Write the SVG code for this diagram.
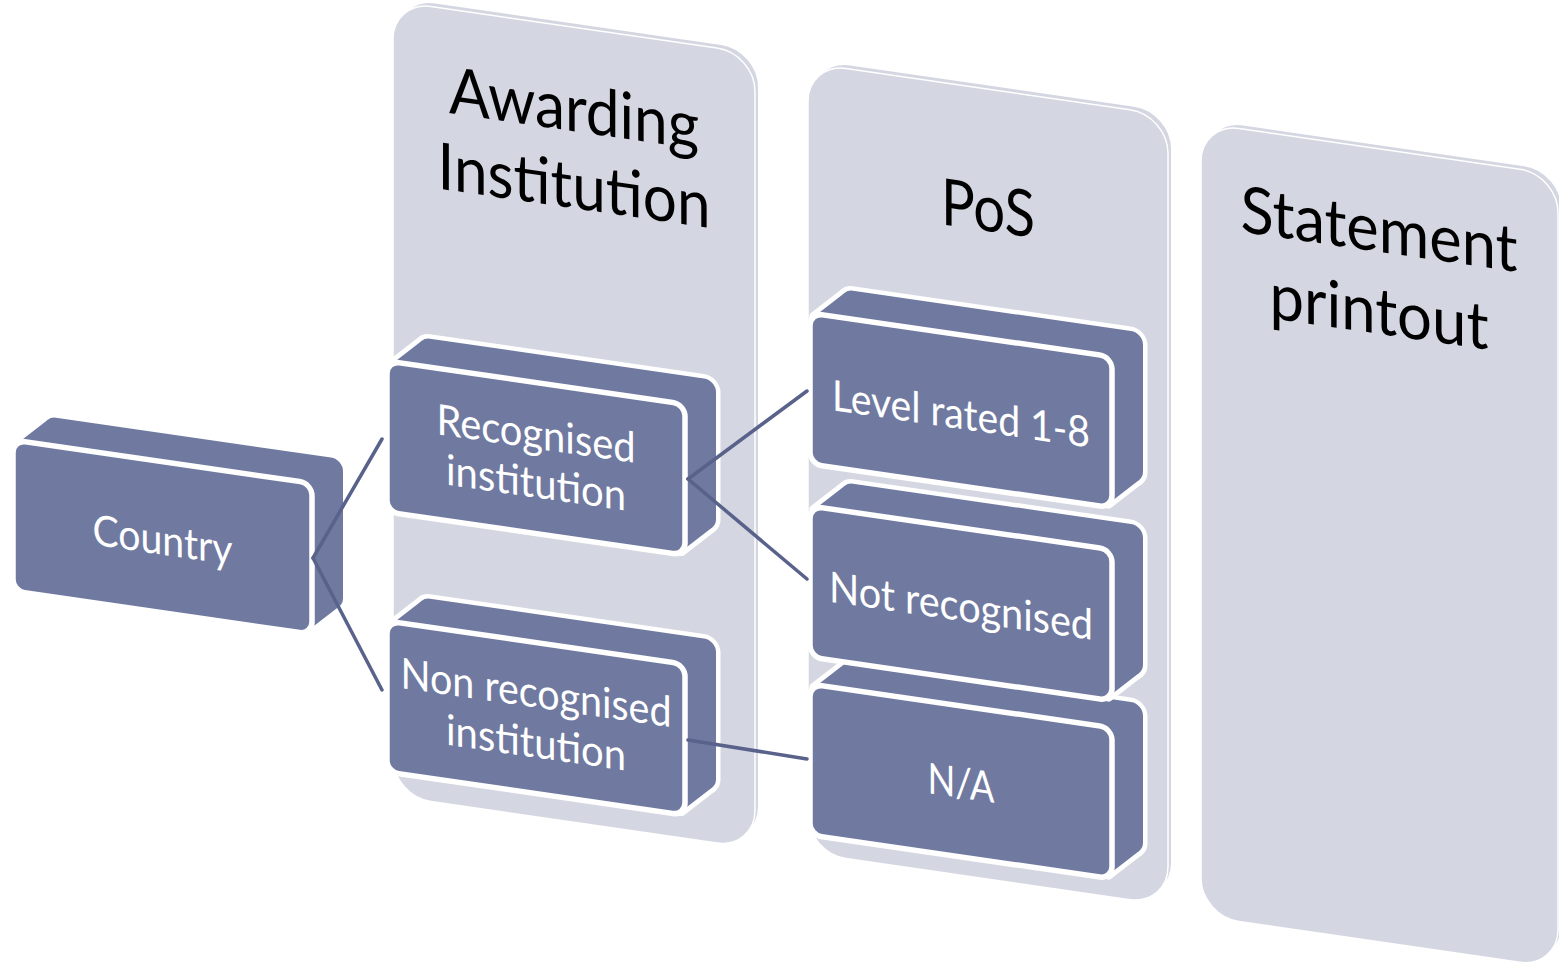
<svg xmlns="http://www.w3.org/2000/svg" width="1559" height="964" viewBox="0 0 1559 964">
<style>
.pback{fill:#D4D7E1;stroke:#FFFFFF;stroke-width:2}
.pfront{fill:#D4D7E1;stroke:#FFFFFF;stroke-width:1.5}
.hdr{font-family:Lato,"Open Sans",sans-serif;font-size:65px;fill:#000000;text-anchor:middle}
.eo rect,.eo polygon{fill:#FFFFFF;stroke:#FFFFFF;stroke-width:9;stroke-linejoin:round}
.ef rect,.ef polygon{fill:#707AA0}
.front{fill:#707AA0;stroke:#FFFFFF;stroke-width:5.5}
.lbl{font-family:Lato,"Open Sans",sans-serif;font-size:42.5px;fill:#FFFFFF;text-anchor:middle}
.conn line{stroke:#58628A;stroke-width:3.5;stroke-linecap:round}
</style>
<rect width="1559" height="964" fill="#FFFFFF"/>

<g id="panel-awarding" transform="matrix(1 0.145 0 1 393 1)">
  <rect class="pback" x="4" y="-4.6" width="362" height="795" rx="38"/>
  <rect class="pfront" width="362" height="795" rx="38"/>
  <text class="hdr" x="181" y="104" textLength="250" lengthAdjust="spacingAndGlyphs">Awarding</text>
  <text class="hdr" x="181" y="181" textLength="273" lengthAdjust="spacingAndGlyphs">Institution</text>
</g>
<g id="panel-pos" transform="matrix(1 0.145 0 1 808 63)">
  <rect class="pback" x="4" y="-4.6" width="360" height="790" rx="38"/>
  <rect class="pfront" width="360" height="790" rx="38"/>
  <text class="hdr" x="180" y="142" textLength="94" lengthAdjust="spacingAndGlyphs">PoS</text>
</g>
<g id="panel-statement" transform="matrix(1 0.145 0 1 1201 123)">
  <rect class="pback" x="4" y="-4.6" width="357" height="793" rx="38"/>
  <rect class="pfront" width="357" height="793" rx="38"/>
  <text class="hdr" x="178" y="103" textLength="277" lengthAdjust="spacingAndGlyphs">Statement</text>
  <text class="hdr" x="178" y="185" textLength="219" lengthAdjust="spacingAndGlyphs">printout</text>
</g>

<g id="node-country" transform="matrix(1 0.145 0 1 13 440)">
  <g class="eo"><rect x="31" y="-28.5" width="299" height="151" rx="12"/><polygon points="3.9,3.2 34.9,-25.3 326.1,119.3 295.1,147.8"/></g>
  <g class="ef"><rect x="31" y="-28.5" width="299" height="151" rx="12"/><polygon points="3.9,3.2 34.9,-25.3 326.1,119.3 295.1,147.8"/></g>
  <rect class="front" width="299" height="151" rx="12"/>
  <text class="lbl" x="149.5" y="93" textLength="140" lengthAdjust="spacingAndGlyphs">Country</text>
</g>

<g id="node-recognised" transform="matrix(1 0.145 0 1 387 361)">
  <g class="eo"><rect x="31" y="-28.5" width="298" height="151" rx="12"/><polygon points="3.9,3.2 34.9,-25.3 325.1,119.3 294.1,147.8"/></g>
  <g class="ef"><rect x="31" y="-28.5" width="298" height="151" rx="12"/><polygon points="3.9,3.2 34.9,-25.3 325.1,119.3 294.1,147.8"/></g>
  <rect class="front" width="298" height="151" rx="12"/>
  <text class="lbl" x="149" y="66" textLength="199" lengthAdjust="spacingAndGlyphs">Recognised</text>
  <text class="lbl" x="149" y="115" textLength="180" lengthAdjust="spacingAndGlyphs">institution</text>
</g>

<g id="node-nonrecognised" transform="matrix(1 0.145 0 1 387 621)">
  <g class="eo"><rect x="31" y="-28.5" width="298" height="151" rx="12"/><polygon points="3.9,3.2 34.9,-25.3 325.1,119.3 294.1,147.8"/></g>
  <g class="ef"><rect x="31" y="-28.5" width="298" height="151" rx="12"/><polygon points="3.9,3.2 34.9,-25.3 325.1,119.3 294.1,147.8"/></g>
  <rect class="front" width="298" height="151" rx="12"/>
  <text class="lbl" x="149" y="65" textLength="271" lengthAdjust="spacingAndGlyphs">Non recognised</text>
  <text class="lbl" x="149" y="115" textLength="180" lengthAdjust="spacingAndGlyphs">institution</text>
</g>

<g id="node-na" transform="matrix(1 0.145 0 1 810 684)">
  <g class="eo"><rect x="31" y="-28.5" width="302" height="151" rx="12"/><polygon points="3.9,3.2 34.9,-25.3 329.1,119.3 298.1,147.8"/></g>
  <g class="ef"><rect x="31" y="-28.5" width="302" height="151" rx="12"/><polygon points="3.9,3.2 34.9,-25.3 329.1,119.3 298.1,147.8"/></g>
  <rect class="front" width="302" height="151" rx="12"/>
  <text class="lbl" x="151" y="92" textLength="67" lengthAdjust="spacingAndGlyphs">N/A</text>
</g>

<g id="node-notrecognised" transform="matrix(1 0.145 0 1 810 506)">
  <g class="eo"><rect x="31" y="-28.5" width="302" height="151" rx="12"/><polygon points="3.9,3.2 34.9,-25.3 329.1,119.3 298.1,147.8"/></g>
  <g class="ef"><rect x="31" y="-28.5" width="302" height="151" rx="12"/><polygon points="3.9,3.2 34.9,-25.3 329.1,119.3 298.1,147.8"/></g>
  <rect class="front" width="302" height="151" rx="12"/>
  <text class="lbl" x="151" y="93" textLength="264" lengthAdjust="spacingAndGlyphs">Not recognised</text>
</g>

<g id="node-level" transform="matrix(1 0.145 0 1 810 313)">
  <g class="eo"><rect x="31" y="-28.5" width="302" height="151" rx="12"/><polygon points="3.9,3.2 34.9,-25.3 329.1,119.3 298.1,147.8"/></g>
  <g class="ef"><rect x="31" y="-28.5" width="302" height="151" rx="12"/><polygon points="3.9,3.2 34.9,-25.3 329.1,119.3 298.1,147.8"/></g>
  <rect class="front" width="302" height="151" rx="12"/>
  <text class="lbl" x="151" y="94" textLength="258" lengthAdjust="spacingAndGlyphs">Level rated 1-8</text>
</g>

<g id="connectors" class="conn">
  <line x1="313" y1="558" x2="382" y2="439"/>
  <line x1="313" y1="558" x2="382" y2="690"/>
  <line x1="688" y1="479" x2="807" y2="391"/>
  <line x1="688" y1="479" x2="807" y2="579"/>
  <line x1="688" y1="740" x2="807" y2="759"/>
</g>
</svg>
